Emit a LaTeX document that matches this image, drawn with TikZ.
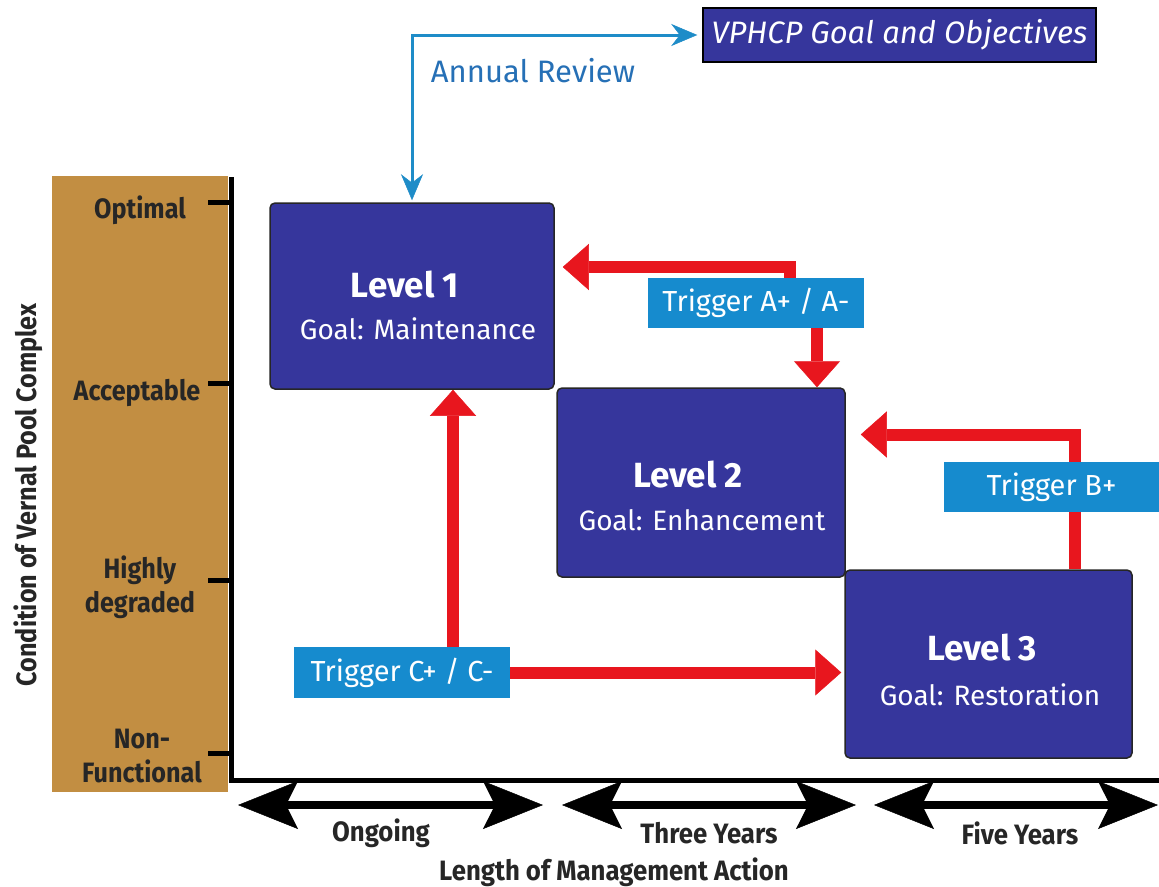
\documentclass[tikz,border=0pt]{standalone}
\usepackage{fontspec}
\setmainfont{Fira Sans}
\usepackage{graphicx}
\usetikzlibrary{arrows.meta,calc}
\definecolor{boxblue}{RGB}{54,54,156}
\definecolor{trigblue}{RGB}{22,139,206}
\definecolor{arrred}{RGB}{232,22,30}
\definecolor{axbrown}{RGB}{194,142,66}
\definecolor{linkblue}{RGB}{30,140,200}
\definecolor{revblue}{RGB}{38,112,182}
\pgfdeclarelayer{bg}
\pgfsetlayers{bg,main}
\newcommand{\cnd}[1]{\scalebox{0.9}[1]{#1}}
\newcommand{\cndb}[1]{\scalebox{0.92}[1]{#1}}
\begin{document}
\begin{tikzpicture}[x=1pt,y=-1pt,
  lvlbox/.style={draw=black!85, line width=1.5pt, fill=boxblue, rounded corners=5pt, inner sep=0pt},
  ttl/.style={text=white, font=\fontsize{35}{40}\selectfont\bfseries},
  gol/.style={text=white, font=\fontsize{28}{32}\selectfont},
  trig/.style={fill=trigblue, text=white, inner sep=0pt, font=\fontsize{29}{32}\selectfont},
  vpbox/.style={fill=boxblue, draw=black, line width=1.5pt, text=white, inner sep=0pt, font=\fontsize{31}{34}\selectfont\itshape},
  redarr/.style={draw=arrred, line width=12pt, -{Triangle[length=26pt,width=46pt,line width=0.5pt]}},
  bluearr/.style={draw=linkblue, line width=3pt, {Stealth[length=26pt,width=22pt,line width=0.5pt]}-{Stealth[length=26pt,width=22pt,line width=0.5pt]}},
  axlab/.style={text=black!85, font=\fontsize{28}{34}\selectfont\bfseries, align=center},
  durarr/.style={draw=black, line width=8pt, {Stealth[length=60pt,width=48pt,inset=12pt,line width=0.5pt]}-{Stealth[length=60pt,width=48pt,inset=12pt,line width=0.5pt]}},
  durlab/.style={text=black!85, font=\fontsize{28}{32}\selectfont\bfseries},
]
\useasboundingbox (0,0) rectangle (1159,886);
\begin{pgfonlayer}{bg}
\fill[white] (0,0) rectangle (1159,886);
\end{pgfonlayer}

% vertical axis panel
\fill[axbrown] (52,176) rectangle (228,792);
\node[axlab] (yl1) at (140,210) {\cnd{Optimal}};
\node[axlab] (yl2) at (137,393) {\cnd{Acceptable}};
\node[axlab] (yl3) at (140,587) {\cnd{Highly}\\\cnd{degraded}};
\node[axlab] (yl4) at (142,756) {\cnd{Non-}\\\cnd{Functional}};
\node[axlab, rotate=90] (ytitle) at (28,495) {\cnd{Condition of Vernal Pool Complex}};

% axes and ticks
\draw[line width=5pt] (231,177) -- (231,780) -- (1159,780);
\foreach \ty in {202,383,580,753} \draw[line width=5pt] (208,\ty) -- (231,\ty);

% boxes
\node[vpbox, minimum width=393pt, minimum height=54pt] (VP) at (899.5,35) {VPHCP Goal and Objectives};
\node[text=revblue, font=\fontsize{31}{34}\selectfont] (AR) at (533,71) {Annual Review};

\node[lvlbox, minimum width=284pt, minimum height=186pt,
  label={[ttl,xshift=-7pt,yshift=11pt]center:Level 1},
  label={[gol,xshift=6pt,yshift=-33pt]center:Goal: Maintenance}] (L1) at (412,296) {};
\node[lvlbox, minimum width=288pt, minimum height=189pt,
  label={[ttl,xshift=-13pt,yshift=7.5pt]center:Level 2},
  label={[gol,xshift=1pt,yshift=-37.5pt]center:Goal: Enhancement}] (L2) at (701,482.5) {};
\node[lvlbox, minimum width=287pt, minimum height=188pt,
  label={[ttl,xshift=-6.5pt,yshift=16pt]center:Level 3},
  label={[gol,xshift=1.5pt,yshift=-31pt]center:Goal: Restoration}] (L3) at (988.5,664) {};

\node[trig, minimum width=216pt, minimum height=50pt] (TA) at (756,303) {Trigger A+ / A-};
\node[trig, minimum width=215pt, minimum height=50pt] (TB) at (1051.5,487) {Trigger B+};
\node[trig, minimum width=216pt, minimum height=51pt] (TC) at (402,672.5) {Trigger C+ / C-};

% connectors
\begin{pgfonlayer}{bg}
\draw[bluearr, shorten <=2pt, shorten >=5pt] (L1.north) |- (VP.west);
\draw[redarr, shorten >=8pt] ([xshift=34pt]TA.north) |- ([yshift=29pt]L1.east);
\draw[redarr] ([xshift=61pt]TA.south) -- ([xshift=61pt]TA.south |- L2.north);
\draw[redarr, shorten >=15pt] ([xshift=86.5pt]L3.north) |- ([yshift=48pt]L2.east);
\draw[redarr] ([xshift=51pt]TC.north) -- ([xshift=51pt]TC.north |- L1.south);
\draw[redarr, shorten >=3pt] (TC.east) -- (TC.east -| L3.west);
\end{pgfonlayer}

% duration arrows
\coordinate (d1a) at (238,805); \coordinate (d1b) at (543,805);
\coordinate (d2a) at (562,805); \coordinate (d2b) at (856,805);
\coordinate (d3a) at (874,805); \coordinate (d3b) at (1158,805);
\draw[durarr] (d1a) -- (d1b);
\draw[durarr] (d2a) -- (d2b);
\draw[durarr] (d3a) -- (d3b);
\node[durlab] (dl1) at (381,833) {\cndb{Ongoing}};
\node[durlab] (dl2) at (709,833) {\cndb{Three Years}};
\node[durlab] (dl3) at (1020,833) {\cndb{Five Years}};
\node[durlab] (xtitle) at (614,872) {\cndb{Length of Management Action}};
\end{tikzpicture}
\end{document}
